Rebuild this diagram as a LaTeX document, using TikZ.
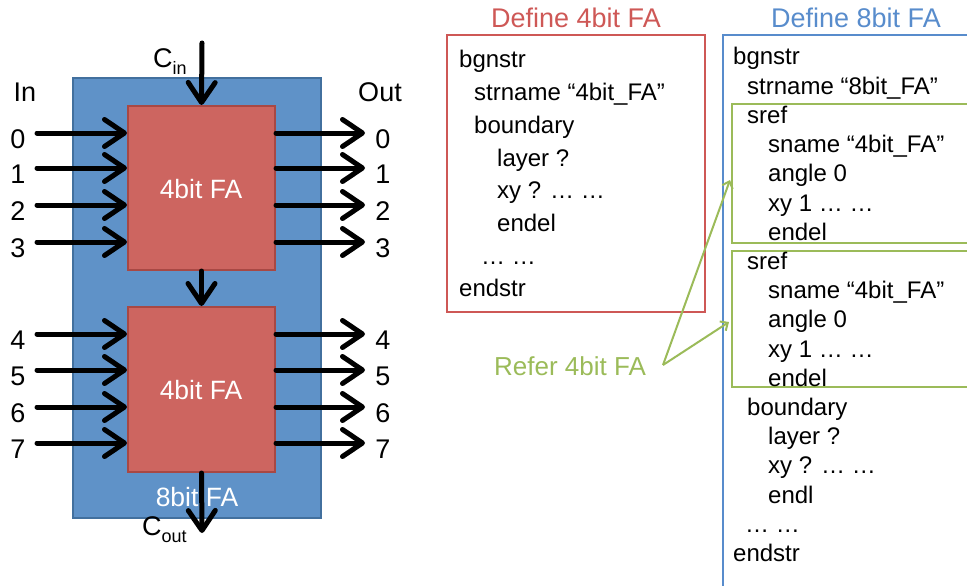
\documentclass[tikz,border=0pt]{standalone}
\usepackage{fontspec}
\setmainfont{Liberation Sans}
\usetikzlibrary{arrows.meta}

\definecolor{chipblue}{RGB}{95,146,200}
\definecolor{chipblueedge}{RGB}{66,112,158}
\definecolor{fared}{RGB}{205,101,96}
\definecolor{faredge}{RGB}{168,72,68}
\definecolor{defred}{RGB}{206,88,86}
\definecolor{defblue}{RGB}{88,140,204}
\definecolor{refgreen}{RGB}{155,187,89}

\tikzset{
  bus/.style={line width=5pt, line cap=round, line join=round,
    -{Straight Barb[length=20pt,width=27pt,line cap=round,line join=round]}},
  refarrow/.style={refgreen, line width=2pt,
    -{Straight Barb[length=6pt,width=11pt]}},
  big/.style={inner sep=0pt, font=\fontsize{27}{30}\selectfont},
  code/.style={inner sep=0pt, anchor=base west, font=\fontsize{24}{28}\selectfont},
  fabox/.style={draw=faredge, fill=fared, line width=2pt, inner sep=0pt,
    text=white, font=\fontsize{26.5}{30}\selectfont},
}

\begin{document}
\begin{tikzpicture}[x=1pt, y=-1pt]
\useasboundingbox (0,0) rectangle (967,586);
\clip (0,0) rectangle (967,586);

% ---------- 8bit adder built from two 4bit adders ----------
\node[draw=chipblueedge, fill=chipblue, line width=1.5pt, minimum width=248pt,
  minimum height=440pt, inner sep=0pt] (fa8) at (197,298) {};
\node[fabox, minimum width=147pt, minimum height=164pt] (fa1) at (201.5,188) {};
\node[fabox, minimum width=147pt, minimum height=165pt] (fa2) at (201.5,389.5) {};
\node[fabox, draw=none, fill=none, anchor=base] (fa1t) at (201,198) {4bit FA};
\node[fabox, draw=none, fill=none, anchor=base] (fa2t) at (201,399) {4bit FA};
\node[fabox, draw=none, fill=none, anchor=base] (fa8t) at (197,506) {8bit FA};

% carry chain
\coordinate (cin) at (202,43);
\coordinate (cout) at (202,533);
\draw[bus] (cin) -- (fa1.north);
\draw[bus] (fa1.south) -- (fa2.north);
\draw[bus] (fa2.south) -- (cout);
\node[big, anchor=base west] (cinl) at (153,67)
  {C\raisebox{-7pt}{\fontsize{18}{18}\selectfont in}};
\node[big, anchor=base west] (coutl) at (142,535)
  {C\raisebox{-7pt}{\fontsize{18}{18}\selectfont out}};

\node[big, anchor=base] (inl) at (25,101) {In};
\node[big, anchor=base] (outl) at (380,101) {Out};

% bit lines of the upper adder
\foreach \b/\yy in {0/133,1/168,2/205,3/242}{
  \coordinate (i\b) at (37,\yy);
  \coordinate (o\b) at (365,\yy);
  \draw[bus] (i\b) -- (fa1.west |- i\b);
  \draw[bus] (fa1.east |- i\b) -- (o\b);
  \node[big, anchor=base] (li\b) at (18,\yy+15) {\b};
  \node[big, anchor=base] (lo\b) at (383,\yy+15) {\b};
}
% bit lines of the lower adder
\foreach \b/\yy in {4/334,5/370,6/407,7/443}{
  \coordinate (i\b) at (37,\yy);
  \coordinate (o\b) at (365,\yy);
  \draw[bus] (i\b) -- (fa2.west |- i\b);
  \draw[bus] (fa2.east |- i\b) -- (o\b);
  \node[big, anchor=base] (li\b) at (18,\yy+15) {\b};
  \node[big, anchor=base] (lo\b) at (383,\yy+15) {\b};
}

% ---------- structure definition of the 4bit adder ----------
\node[draw=defred, line width=2.5pt, minimum width=258pt, minimum height=277pt,
  inner sep=0pt] (def4) at (576,173.5) {};
\node[big, anchor=base, text=defred] (def4t) at (576,28) {Define 4bit FA};
\foreach \xx/\tt [count=\k from 0] in {
  459/bgnstr, 474/{strname “4bit\_FA”}, 474/boundary, 497/{layer ?},
  497/{xy ? … …}, 497/endel, 481/{… …}, 459/endstr}{
  \node[code] (a\k) at (\xx,{68+32.7*\k}) {\tt};
}

% ---------- structure definition of the 8bit adder ----------
\draw[defblue, line width=2.5pt] (980,35) -- (723,35) -- (723,600);
\node[big, anchor=base, text=defblue] (def8t) at (856,28) {Define 8bit FA};
\draw[refgreen, line width=2.5pt] (980,104) -- (732,104) -- (732,243) -- (980,243);
\draw[refgreen, line width=2.5pt] (980,251) -- (732,251) -- (732,387) -- (980,387);
\foreach \xx/\tt [count=\k from 0] in {
  733/bgnstr, 747/{strname “8bit\_FA”}, 747/sref, 768/{sname “4bit\_FA”},
  768/{angle 0}, 768/{xy 1 … …}, 768/endel, 747/sref, 768/{sname “4bit\_FA”},
  768/{angle 0}, 768/{xy 1 … …}, 768/endel, 747/boundary, 768/{layer ?},
  768/{xy ? … …}, 768/endl, 745/{… …}, 733/endstr}{
  \node[code] (b\k) at (\xx,{65+29.2*\k}) {\tt};
}

% ---------- references ----------
\node[big, anchor=base west, text=refgreen, font=\fontsize{26}{30}\selectfont]
  (refer) at (494,375) {Refer 4bit FA};
\coordinate (rfrom) at (663,365);
\coordinate (sref1) at (730,180);
\coordinate (sref2) at (729,322);
\draw[refarrow] (rfrom) -- (sref1);
\draw[refarrow] (rfrom) -- (sref2);
\end{tikzpicture}
\end{document}
